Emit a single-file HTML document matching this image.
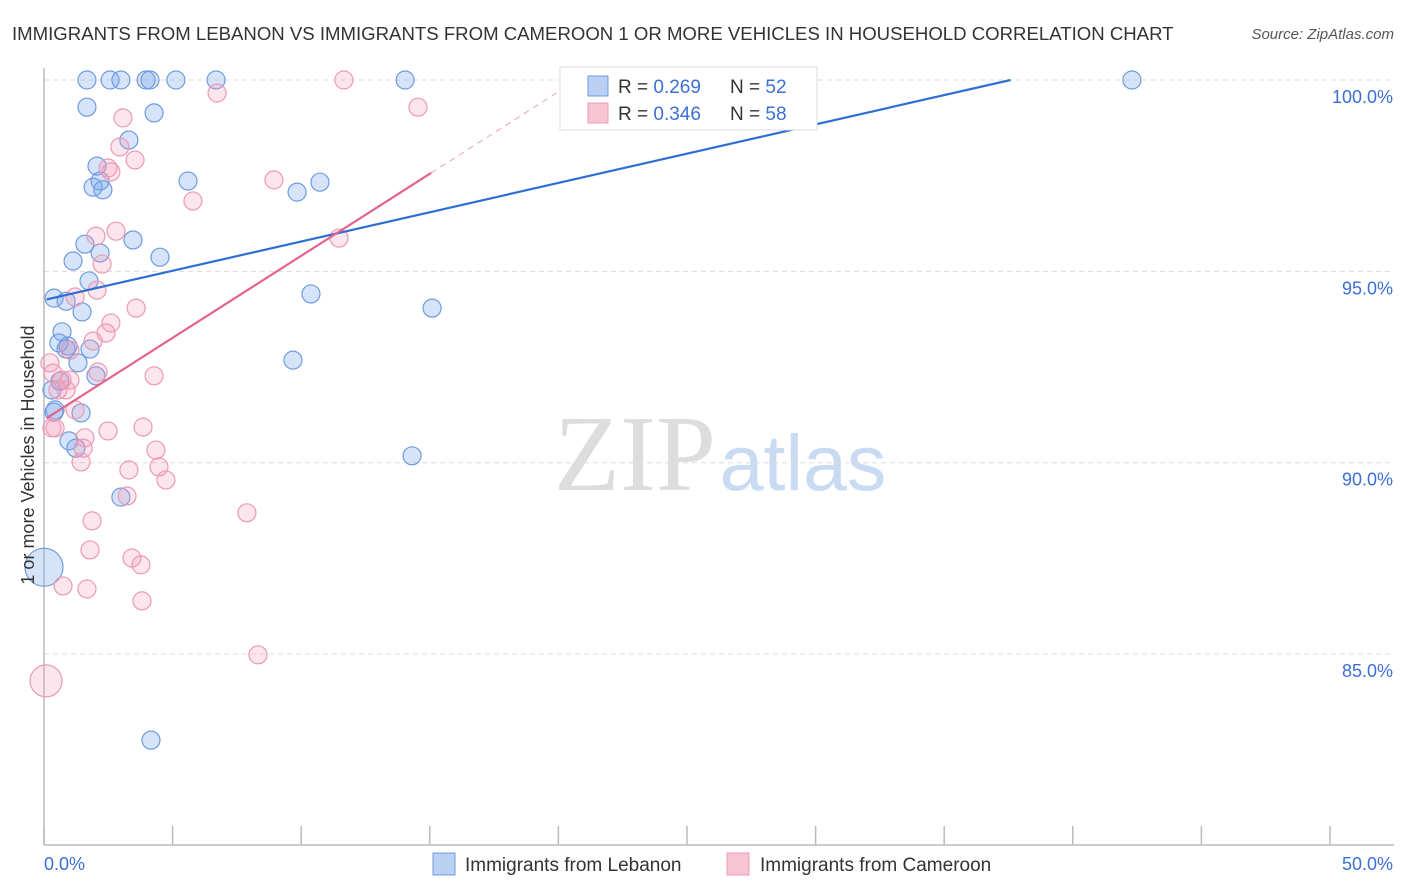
<!DOCTYPE html>
<html><head><meta charset="utf-8"><style>
body{margin:0;background:#fff;font-family:"Liberation Sans",sans-serif;}
svg{display:block}
</style></head><body>
<svg id="chart" width="1406" height="892" xmlns="http://www.w3.org/2000/svg" font-family="Liberation Sans, sans-serif">
<text x="12" y="40" font-size="18.6" fill="#333">IMMIGRANTS FROM LEBANON VS IMMIGRANTS FROM CAMEROON 1 OR MORE VEHICLES IN HOUSEHOLD CORRELATION CHART</text>
<text x="1394" y="39" font-size="15" font-style="italic" fill="#555" text-anchor="end">Source: ZipAtlas.com</text>
<g>
<text x="635" y="490" font-size="108" font-family="Liberation Serif, serif" fill="#ddd" text-anchor="middle">ZIP</text>
<text x="803" y="490" font-size="79" fill="#c9daf3" text-anchor="middle">atlas</text>
</g>
<g id="grid"></g>
<g id="axes"></g>
<g id="points"></g>
<g id="trends"></g>
<text transform="translate(34,455) rotate(-90)" font-size="18" fill="#333" text-anchor="middle">1 or more Vehicles in Household</text>
<g>
<rect x="560" y="67" width="257" height="63" fill="#fff" stroke="#ddd"/>
<rect x="588" y="76" width="20" height="20" fill="#b9d0f3" stroke="#6f9ae0"/>
<rect x="588" y="103" width="20" height="20" fill="#f8c5d4" stroke="#eb9ab3"/>
<text x="618" y="93" font-size="19" fill="#333">R = <tspan fill="#3b6fd6">0.269</tspan></text>
<text x="730" y="93" font-size="19" fill="#333">N = <tspan fill="#3b6fd6">52</tspan></text>
<text x="618" y="120" font-size="19" fill="#333">R = <tspan fill="#3b6fd6">0.346</tspan></text>
<text x="730" y="120" font-size="19" fill="#333">N = <tspan fill="#3b6fd6">58</tspan></text>
</g>
<g>
<rect x="433" y="853" width="22" height="22" fill="#b9d0f3" stroke="#6f9ae0"/>
<text x="465" y="871" font-size="19" fill="#333">Immigrants from Lebanon</text>
<rect x="727" y="853" width="22" height="22" fill="#f8c5d4" stroke="#eb9ab3"/>
<text x="760" y="871" font-size="19" fill="#333">Immigrants from Cameroon</text>
</g>
</svg>
<script>
const blueX=[1.67,2.57,2.99,3.97,4.12,5.13,6.69,14.04,42.30,1.67,4.28,3.30,2.06,1.91,2.18,2.29,5.60,9.84,10.73,1.59,3.46,2.18,4.51,1.13,1.75,0.39,0.86,10.38,15.09,1.48,0.70,0.58,0.93,0.86,1.79,1.32,9.68,2.02,0.31,0.62,0.43,0.39,1.44,0.97,1.24,2.99,14.31,0,4.16];
const blueY=[100,100,100,100,100,100,100,100,100,99.29,99.14,98.43,97.75,97.20,97.36,97.13,97.36,97.07,97.33,95.71,95.82,95.48,95.37,95.27,94.75,94.30,94.22,94.41,94.04,93.94,93.42,93.13,93.05,92.97,92.97,92.61,92.68,92.27,91.90,92.13,91.38,91.32,91.30,90.57,90.38,89.10,90.18,87.27,82.75];
const blueR=[9,9,9,9,9,9,9,9,9,9,9,9,9,9,9,9,9,9,9,9,9,9,9,9,9,9,9,9,9,9,9,9,9,9,9,9,9,9,9,9,9,9,9,9,9,9,9,19,9];
const pinkX=[11.66,6.73,14.54,3.07,2.95,3.54,2.49,2.60,8.94,5.79,2.80,2.02,11.47,2.26,2.06,1.21,3.58,2.60,2.41,1.91,1.01,2.10,4.28,0.23,0.35,0.70,1.01,0.54,0.86,1.21,0.31,0.43,2.49,3.85,1.59,1.52,1.44,3.30,4.35,4.47,4.74,3.23,7.89,1.87,1.79,3.42,3.77,0.74,1.67,3.81,8.32,0.08];
const pinkY=[100,99.66,99.29,99.01,98.25,97.91,97.70,97.60,97.39,96.84,96.05,95.92,95.87,95.19,94.51,94.33,94.04,93.65,93.39,93.18,92.94,92.37,92.27,92.61,92.34,92.16,92.16,91.90,91.90,91.38,90.91,90.91,90.83,90.93,90.65,90.38,90.02,89.81,90.33,89.89,89.55,89.13,88.69,88.48,87.72,87.51,87.33,86.78,86.70,86.39,84.98,84.30];
const pinkR=pinkX.map((_,i)=>i===pinkX.length-1?16:9);
const blueTrend=[94.25,0.153];
const pinkTrend=[91.12,0.4286];
const yTicks=[100,95,90,85];
const yTickLabels=["100.0%","95.0%","90.0%","85.0%"];
const xTicks=[0,5,10,15,20,25,30,35,40,45,50];

const NS="http://www.w3.org/2000/svg";
const X=p=>44+p*25.72;
const Y=v=>80+(100-v)*38.27;
function mk(tag,at,parent){const e=document.createElementNS(NS,tag);for(const k in at)e.setAttribute(k,at[k]);document.getElementById(parent).appendChild(e);return e;}

yTicks.forEach((t,i)=>{
  const l=mk('line',{x1:44,x2:1394,y1:Y(t),y2:Y(t),stroke:'#ddd','stroke-dasharray':'5,4'},'grid');
  
  
  const tx=mk('text',{x:1393,y:Y(t)+23,'font-size':18,fill:'#3b6fd6','text-anchor':'end'},'grid');
  tx.textContent=yTickLabels[i];
  
  
});
const ax=mk('line',{x1:44,x2:1394,y1:845,y2:845,stroke:'#bbb','stroke-width':1.5},'axes');


const ay=mk('line',{x1:44,x2:44,y1:68,y2:845,stroke:'#bbb','stroke-width':1.5},'axes');


xTicks.forEach(t=>{
  const l=mk('line',{x1:X(t),x2:X(t),y1:826,y2:845,stroke:'#bbb','stroke-width':1.5},'axes');
  
  
});
const xl0=mk('text',{x:44,y:870,'font-size':18,fill:'#3b6fd6'},'axes');xl0.textContent='0.0%';


const xl1=mk('text',{x:1393,y:870,'font-size':18,fill:'#3b6fd6','text-anchor':'end'},'axes');xl1.textContent='50.0%';



blueX.forEach((v,i)=>{
  const c=mk('circle',{cx:X(v),cy:Y(blueY[i]),r:blueR[i],fill:'rgba(120,165,235,0.3)',stroke:'#6f9ae0','stroke-width':1.2},'points');
  
  
});
pinkX.forEach((v,i)=>{
  const c=mk('circle',{cx:X(v),cy:Y(pinkY[i]),r:pinkR[i],fill:'rgba(245,150,180,0.25)',stroke:'#eb9ab3','stroke-width':1.2},'points');
  
  
});
const bx2=(100-blueTrend[0])/blueTrend[1];
const bl=mk('line',{x1:X(0.1),y1:Y(blueTrend[0]+0.1*blueTrend[1]),x2:X(bx2),y2:Y(100),stroke:'#2f6fd4','stroke-width':2.2},'trends');


const pl=mk('line',{x1:X(0.1),y1:Y(pinkTrend[0]+0.1*pinkTrend[1]),x2:X(15.05),y2:Y(pinkTrend[0]+15.05*pinkTrend[1]),stroke:'#e4638f','stroke-width':2.2},'trends');


const px2=(100-pinkTrend[0])/pinkTrend[1];
const pd=mk('line',{x1:X(15.05),y1:Y(pinkTrend[0]+15.05*pinkTrend[1]),x2:X(px2),y2:Y(100),stroke:'#e8a0b8','stroke-width':1,'stroke-dasharray':'6,5'},'trends');


</script>
</body></html>
